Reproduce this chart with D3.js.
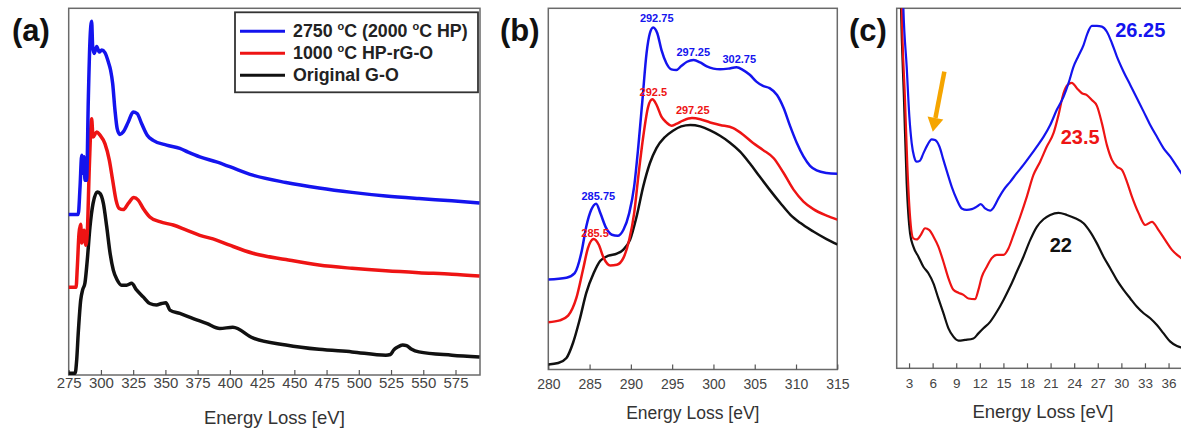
<!DOCTYPE html>
<html>
<head>
<meta charset="utf-8">
<script src="https://cdn.jsdelivr.net/npm/d3@7"></script>
<style>
  body { margin: 0; background: #fff; }
  svg { display: block; font-family: "Liberation Sans", Arial, sans-serif; }
</style>
</head>
<body>
<script>
// ---- data: [energy loss (eV), intensity (a.u., 0-100 of panel height)] ----
const seriesNames = ["2750 °C (2000 °C HP)", "1000 °C HP-rG-O", "Original G-O"];
const seriesColors = ["#1414ee", "#ee1414", "#111111"];

// (a) C K-edge, wide range
const aBlue = [[274.7,43.8],[282.4,43.8],[283.8,51.3],[285.1,59.9],[285.8,55.0],[286.9,59.5],[287.6,53.1],[288.9,53.1],[290.2,74.9],[291.5,91.3],[292.8,96.5],[293.6,89.5],[294.8,87.7],[296.7,89.6],[298.7,88.1],[300.6,88.6],[303.1,87.9],[305.7,85.4],[307.5,83.1],[309.1,79.5],[310.9,72.2],[312.6,67.2],[314.7,65.6],[317.3,66.3],[321.2,69.0],[325,71.7],[328.1,71.3],[331.5,68.6],[335.9,65.4],[340.5,64.0],[350.9,62.7],[361.2,61.8],[367.6,60.8],[376.7,59.5],[389.6,58.1],[399.9,56.8],[417.8,54.5],[443.5,52.5],[469.1,51.0],[494.7,49.8],[521,48.8],[546.6,48.1],[572.2,47.5],[593.6,46.9]];
const aRed = [[274.7,23.9],[280.7,23.9],[281.7,29.5],[283.0,38.6],[284.3,41.1],[285.1,36.0],[286.9,39.5],[288.3,35.4],[289.4,38.7],[291.0,56.8],[292.8,69.9],[293.9,64.9],[296.7,66.3],[299.3,65.4],[303.1,63.1],[306.5,58.6],[309.1,53.1],[311.7,47.7],[314.2,45.4],[317.3,45.1],[321.2,46.8],[325.5,48.4],[328.9,47.7],[332.8,45.4],[337.9,43.1],[345.7,41.8],[356.1,40.9],[366.4,39.5],[376.7,38.1],[389.6,36.8],[399.9,35.4],[417.8,33.2],[443.5,31.5],[469.1,30.0],[494.7,29.1],[521,28.4],[546.6,27.9],[572.2,27.5],[593.6,27.0]];
const aBlack = [[274.7,0.5],[280,0.5],[281.2,4.1],[282.4,11.4],[284.3,20.4],[285.8,23.2],[287.6,25.1],[289.4,31.3],[291.5,40.4],[293.9,46.8],[297.2,49.9],[299.3,49.5],[301.9,46.8],[304.5,40.4],[307.1,33.2],[309.6,28.6],[312.6,25.9],[316,24.5],[319.9,24.5],[323.8,25.0],[327.6,23.2],[332.8,21.3],[337.9,19.5],[343.1,19.1],[347,19.5],[350.4,19.7],[353.5,17.7],[361.2,16.8],[371.6,15.4],[381.9,14.1],[392.2,12.7],[402.3,13.0],[417.8,10.1],[443.5,8.2],[469.1,7.0],[494.7,6.3],[521,5.4],[524.5,5.6],[527,6.8],[530,7.6],[534,8.2],[537,8.0],[541,7.0],[546.6,6.3],[572.2,5.4],[593.6,4.9]];

// (b) C K-edge fine structure
const bBlue = [[280,24.9],[282.2,25.4],[283.2,26.7],[284.0,32.3],[284.6,39.6],[285.2,44.2],[285.8,45.9],[286.3,43.3],[287.0,39.2],[287.7,37.3],[288.4,37.0],[289.1,38.7],[289.8,43.3],[290.4,50.7],[290.9,61.7],[291.4,74.6],[291.9,87.6],[292.3,93.1],[292.7,94.7],[293.2,93.1],[293.7,88.5],[294.3,84.8],[294.9,83.1],[295.5,82.9],[296.1,84.0],[296.8,85.2],[297.6,85.7],[298.4,85.0],[299.2,83.9],[300.0,83.3],[300.8,83.1],[301.8,83.3],[302.8,83.7],[303.6,82.9],[304.4,81.6],[305.2,79.7],[306.0,78.5],[306.8,77.9],[307.7,76.0],[308.5,72.4],[309.3,67.3],[310.1,62.7],[310.9,59.0],[311.7,56.4],[312.5,55.1],[313.7,54.4],[315,54.2]];
const bRed = [[280,13.1],[281.4,13.6],[282.4,14.9],[283.4,19.8],[284.2,27.6],[284.8,33.6],[285.5,36.1],[286.1,34.6],[286.7,30.9],[287.5,28.8],[288.3,29.0],[289.1,30.9],[289.8,35.9],[290.4,43.3],[290.9,53.4],[291.5,64.5],[292.1,72.8],[292.6,74.8],[293.1,73.3],[293.7,70.0],[294.3,68.4],[294.9,67.5],[295.5,68.0],[296.3,68.9],[297.4,69.6],[298.4,69.3],[299.6,68.4],[300.8,67.7],[302.4,66.8],[303.6,65.0],[304.8,62.7],[306.0,60.8],[307.3,58.5],[308.5,54.4],[309.7,49.8],[310.9,46.5],[312.1,44.4],[313.7,42.6],[315,41.5]];
const bBlack = [[280,1.4],[281.2,1.8],[282.2,3.2],[283.0,7.4],[283.8,13.8],[284.6,21.2],[285.5,26.7],[286.3,30.1],[287.3,31.5],[288.3,32.1],[289.1,33.2],[289.9,35.9],[290.7,42.4],[291.5,50.7],[292.3,57.1],[293.1,61.3],[294.1,64.3],[295.1,66.1],[296.1,67.3],[297.2,67.7],[298.4,67.3],[299.6,66.2],[300.8,64.7],[302.0,62.8],[303.2,60.4],[304.4,57.1],[305.6,53.4],[306.8,49.8],[308.1,46.1],[309.3,42.9],[310.5,40.6],[312.1,38.2],[313.7,36.1],[315,34.6]];
const bPeaks = [
  { s: 0, label: "292.75", e: 293.13, v: 97.2 },
  { s: 0, label: "297.25", e: 297.56, v: 88.0 },
  { s: 0, label: "302.75", e: 303.13, v: 85.9 },
  { s: 0, label: "285.75", e: 286.06, v: 47.9 },
  { s: 1, label: "292.5",  e: 292.72, v: 76.7 },
  { s: 1, label: "297.25", e: 297.49, v: 71.7 },
  { s: 1, label: "285.5",  e: 285.66, v: 37.8 }
];

// (c) low-loss region
const cBlue = [[2.1,115],[2.28,100],[2.70,83.8],[3.04,69.9],[3.34,62.5],[3.64,58.8],[3.98,57.4],[4.40,57.7],[4.82,59.7],[5.33,62.0],[5.88,63.6],[6.31,63.4],[6.86,61.6],[7.37,57.9],[7.88,54.2],[8.43,50.4],[9.07,46.9],[9.70,44.4],[10.34,44.0],[10.98,44.2],[11.61,44.9],[12.12,45.6],[12.67,44.4],[13.31,43.8],[13.82,44.9],[14.37,47.2],[15.01,49.5],[15.86,51.8],[16.70,54.2],[17.55,56.5],[18.40,59.0],[19.25,61.6],[20.10,64.3],[20.95,67.6],[21.79,71.8],[22.64,75.4],[23.28,79.2],[23.92,83.8],[24.55,86.8],[25.19,89.8],[25.70,93.1],[26.25,95.1],[26.89,95.1],[27.52,94.9],[28.16,93.5],[28.80,90.3],[29.43,86.6],[30.28,82.4],[31.13,78.7],[31.98,75.0],[32.83,71.3],[33.67,67.6],[34.52,64.3],[35.37,61.1],[36.22,58.8],[37.07,56.0],[37.62,54.2],[38.0,53.0]];
const cRed = [[1.95,115],[2.07,100],[2.49,74.5],[2.79,56.0],[3.13,42.1],[3.55,36.1],[3.98,35.8],[4.48,37.0],[5.04,38.9],[5.59,38.4],[6.10,36.6],[6.73,33.8],[7.37,29.6],[8.01,25.0],[8.64,21.8],[9.28,21.0],[9.92,20.4],[10.55,19.4],[11.40,19.2],[11.82,21.8],[12.25,25.4],[12.89,28.2],[13.52,30.6],[14.16,31.5],[15.01,31.5],[15.64,33.3],[16.28,37.0],[17.13,42.1],[17.98,47.7],[18.82,53.7],[19.67,57.4],[20.52,61.6],[21.37,65.3],[22.01,70.4],[22.64,76.4],[23.15,78.7],[23.70,79.3],[24.34,77.8],[24.98,76.4],[25.61,75.9],[26.25,74.5],[26.89,72.9],[27.52,68.1],[28.16,62.0],[28.80,57.9],[29.43,56.0],[30.07,55.1],[30.71,51.8],[31.34,47.7],[32.19,43.1],[33.04,39.8],[33.89,40.7],[34.73,38.4],[35.58,35.6],[36.43,32.9],[37.62,30.6],[38.0,30.0]];
const cBlack = [[1.85,115],[1.98,100],[2.36,74.5],[2.70,51.4],[3.13,37.5],[3.55,33.8],[4.19,31.0],[4.82,28.2],[5.46,26.4],[6.10,23.6],[6.73,19.4],[7.37,15.3],[8.01,11.1],[8.64,8.8],[9.28,7.7],[10.13,7.9],[11.19,8.3],[11.82,9.7],[12.46,11.1],[13.31,12.9],[14.16,15.7],[15.01,19.0],[15.86,22.7],[16.70,26.8],[17.55,31.0],[18.40,35.6],[19.25,39.3],[20.10,41.4],[20.95,42.6],[22.01,43.2],[23.07,42.6],[24.13,41.7],[25.19,40.3],[26.04,37.9],[26.89,34.7],[27.73,31.0],[28.58,27.8],[29.43,24.5],[30.28,21.8],[31.13,19.4],[31.98,17.1],[32.83,15.3],[33.67,13.9],[34.52,12.0],[35.37,9.7],[36.22,7.4],[37.07,6.2],[37.62,5.8],[38.0,5.6]];
const cPeaks = [
  { s: 0, label: "26.25", e: 32.4, v: 94.0 },
  { s: 1, label: "23.5",  e: 24.76, v: 64.3 },
  { s: 2, label: "22",    e: 22.3, v: 34.3 }
];
const cArrow = { from: [7.49, 82.4], to: [6.02, 65.7] };

const aTicks = d3.range(275, 576, 25);
const bTicks = d3.range(280, 316, 5);
const cTicks = d3.range(3, 37, 3);

// ---- layout ----
const panels = [
  { id: "a", tag: "(a)", tagX: 12, left: 68.7, right: 480, top: 8.3, bottom: 375, xDomain: [275, 594],
    ticks: aTicks, tickFont: 15, tickPad: 2, titleFont: 18.5, titleY: 424, lineW: 3.5,
    lines: [aBlack, aRed, aBlue], order: [2, 1, 0], peaks: [], peakFont: 0 },
  { id: "b", tag: "(b)", tagX: 500, left: 548.3, right: 837.3, top: 8.3, bottom: 369.5, xDomain: [280, 315],
    ticks: bTicks, tickFont: 14, tickPad: 10, titleFont: 17.5, titleY: 419, lineW: 2.5,
    lines: [bBlack, bRed, bBlue], order: [2, 1, 0], peaks: bPeaks, peakFont: 11 },
  { id: "c", tag: "(c)", tagX: 849, left: 896.7, right: 1189, top: 8.3, bottom: 368.3, xDomain: [1.43, 38.6],
    ticks: cTicks, tickFont: 13.5, tickPad: 10, titleFont: 18.5, titleY: 418, lineW: 2.2,
    lines: [cBlack, cRed, cBlue], order: [2, 1, 0], peaks: cPeaks, peakFont: 20 }
];

const svg = d3.select("body").append("svg")
  .attr("width", 1181)
  .attr("height", 430);

panels.forEach(p => {
  const x = d3.scaleLinear().domain(p.xDomain).range([p.left, p.right]);
  const y = d3.scaleLinear().domain([0, 100]).range([p.bottom, p.top]);
  const g = svg.append("g");

  // frame
  g.append("rect")
    .attr("x", p.left).attr("y", p.top)
    .attr("width", p.right - p.left).attr("height", p.bottom - p.top)
    .attr("fill", "none").attr("stroke", "#6a6a6a").attr("stroke-width", 1.5);

  // bottom axis with inward ticks
  const axis = d3.axisBottom(x).tickValues(p.ticks)
    .tickSizeInner(-5).tickSizeOuter(0).tickPadding(p.tickPad)
    .tickFormat(d3.format("d"));
  const ax = g.append("g")
    .attr("transform", "translate(0," + p.bottom + ")")
    .call(axis)
    .attr("font-family", null).attr("font-size", null);
  ax.select(".domain").remove();
  ax.selectAll(".tick line").attr("stroke", "#555").attr("stroke-width", 1.2);
  ax.selectAll(".tick text").attr("fill", "#444").style("font-size", p.tickFont + "px");

  g.append("text")
    .attr("x", (p.left + p.right) / 2)
    .attr("y", p.titleY)
    .attr("text-anchor", "middle")
    .style("font-size", p.titleFont + "px")
    .attr("fill", "#333")
    .text("Energy Loss [eV]");

  // curves
  svg.append("clipPath").attr("id", "clip-" + p.id)
    .append("rect")
    .attr("x", p.left).attr("y", p.top)
    .attr("width", p.right - p.left).attr("height", p.bottom - p.top);

  const line = d3.line()
    .x(d => x(d[0]))
    .y(d => y(d[1]))
    .curve(d3.curveMonotoneX);

  g.append("g")
    .attr("clip-path", "url(#clip-" + p.id + ")")
    .selectAll("path")
    .data(p.lines)
    .enter()
    .append("path")
    .attr("d", d => line(d))
    .attr("fill", "none")
    .attr("stroke", (d, i) => seriesColors[p.order[i]])
    .attr("stroke-width", p.lineW)
    .attr("stroke-linejoin", "round");

  // peak labels
  g.selectAll(".peak")
    .data(p.peaks)
    .enter()
    .append("text")
    .attr("class", "peak")
    .attr("x", d => x(d.e))
    .attr("y", d => y(d.v))
    .attr("dy", "0.36em")
    .attr("text-anchor", "middle")
    .attr("font-weight", "bold")
    .style("font-size", p.peakFont + "px")
    .attr("fill", d => seriesColors[d.s])
    .text(d => d.label);

  // panel tag
  svg.append("text")
    .attr("x", p.tagX).attr("y", 41)
    .attr("font-weight", "bold")
    .style("font-size", "31px")
    .attr("fill", "#111")
    .text(p.tag);

  if (p.id === "c") {
    const x0 = x(cArrow.from[0]), y0 = y(cArrow.from[1]);
    const x1 = x(cArrow.to[0]), y1 = y(cArrow.to[1]);
    const len = Math.hypot(x1 - x0, y1 - y0);
    const ux = (x1 - x0) / len, uy = (y1 - y0) / len;
    const headL = 14, headW = 8;
    const bx = x1 - ux * headL, by = y1 - uy * headL;
    g.append("line")
      .attr("x1", x0).attr("y1", y0).attr("x2", bx).attr("y2", by)
      .attr("stroke", "#f5a500").attr("stroke-width", 4.5);
    g.append("path")
      .attr("d", "M" + x1 + "," + y1 +
        "L" + (bx - uy * headW) + "," + (by + ux * headW) +
        "L" + (bx + uy * headW) + "," + (by - ux * headW) + "Z")
      .attr("fill", "#f5a500");
  }
});

// legend in panel (a)
const legend = svg.append("g").attr("transform", "translate(235,12.3)");
legend.append("rect")
  .attr("width", 243).attr("height", 80)
  .attr("fill", "#fff").attr("stroke", "#333").attr("stroke-width", 1.8);

seriesNames.forEach((name, i) => {
  const cy = 19 + i * 22;
  legend.append("line")
    .attr("x1", 5).attr("x2", 50).attr("y1", cy).attr("y2", cy)
    .attr("stroke", seriesColors[i]).attr("stroke-width", 3);
  const t = legend.append("text")
    .attr("x", 58).attr("y", cy + 6)
    .attr("font-weight", "bold")
    .style("font-size", "17.8px")
    .attr("fill", "#222");
  const parts = name.split("°");
  parts.forEach((part, k) => {
    if (k > 0) {
      t.append("tspan").attr("dy", -7).style("font-size", "11px").text("o");
      t.append("tspan").attr("dy", 7).text(part);
    } else {
      t.append("tspan").text(part);
    }
  });
});
</script>
</body>
</html>
